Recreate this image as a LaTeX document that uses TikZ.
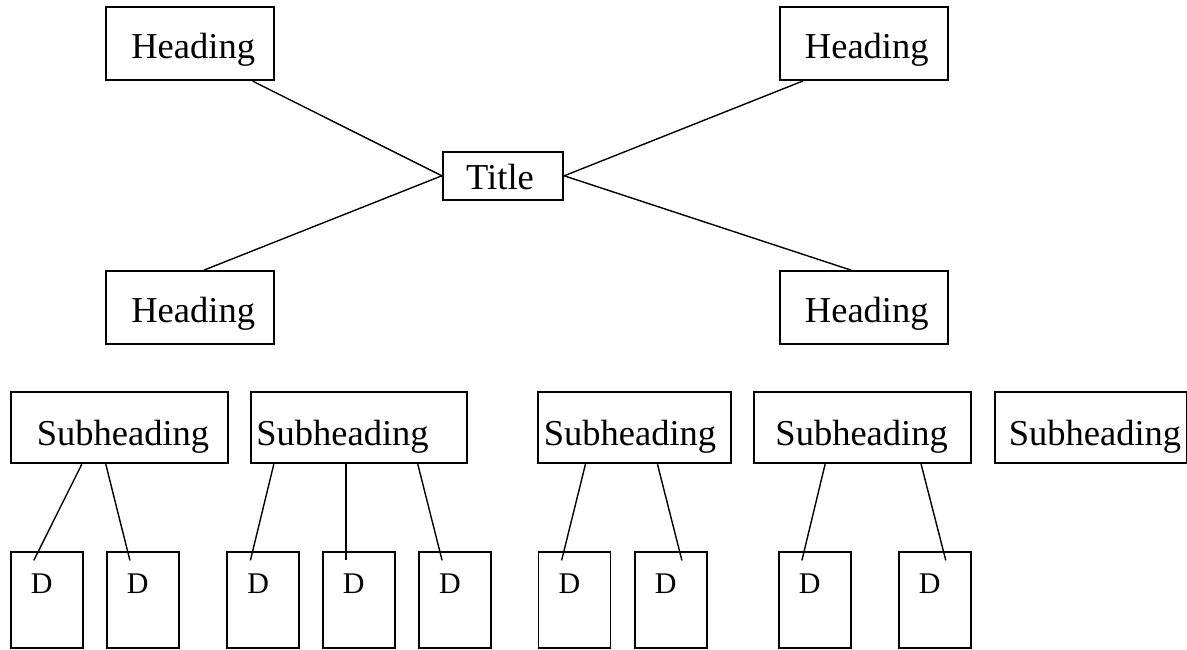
\documentclass[tikz,border=0pt]{standalone}
\usepackage{fontspec}
\setmainfont{Liberation Serif}
\usetikzlibrary{calc}

\begin{document}
\begin{tikzpicture}[x=1pt,y=-1pt,
  box/.style={draw, line width=1.8pt, inner sep=0pt, font=\fontsize{36.5pt}{40pt}\selectfont},
  nudge/.style={execute at begin node={\hspace*{#1}}},
  headbox/.style={box, minimum width=168pt, minimum height=73pt, text height=29.2pt, text depth=0pt, nudge=6pt},
  titlebox/.style={box, minimum width=120.6pt, minimum height=48.3pt, text height=27pt, text depth=0pt, nudge=-6pt},
  subbox/.style={box, minimum height=71pt, text height=34.4pt, text depth=0pt},
  dbox/.style={box, minimum width=72pt, minimum height=96pt, text height=20pt, text depth=34pt, font=\fontsize{30pt}{34pt}\selectfont, nudge=-10pt},
  link/.style={line width=1.4pt}]
\useasboundingbox (0,0) rectangle (1187,649);

% title and headings
\node[titlebox] (title) at (503,175.8) {Title};
\node[headbox] (h1) at (190.2,43.7) {Heading};
\node[headbox] (h2) at (863.8,43.7) {Heading};
\node[headbox] (h3) at (190.2,307.5) {Heading};
\node[headbox] (h4) at (863.8,307.5) {Heading};

% subheadings
\node[subbox, minimum width=217pt, nudge=7.6pt] (s1) at (119.2,427.8) {Subheading};
\node[subbox, minimum width=216.6pt, nudge=-33pt] (s2) at (359,427.8) {Subheading};
\node[subbox, minimum width=192.7pt, nudge=-9.3pt] (s3) at (634.7,427.8) {Subheading};
\node[subbox, minimum width=217pt, nudge=-1.7pt] (s4) at (862.5,427.8) {Subheading};
\node[subbox, minimum width=192pt, nudge=8.6pt] (s5) at (1090.7,427.8) {Subheading};

% details
\node[dbox] (d1) at (46.7,600.3) {D};
\node[dbox] (d2) at (142.8,600.3) {D};
\node[dbox] (d3) at (263.3,600.3) {D};
\node[dbox] (d4) at (358.7,600.3) {D};
\node[dbox] (d5) at (455,600.3) {D};
\node[dbox] (d6) at (574.5,600.3) {D};
\node[dbox] (d7) at (670.8,600.3) {D};
\node[dbox] (d8) at (814.8,600.3) {D};
\node[dbox] (d9) at (934.7,600.3) {D};

% headings to title
\draw[link] ($(h1.south west)+(147.3,0)$) -- (title.west);
\draw[link] ($(h3.north west)+(98.7,0)$) -- (title.west);
\draw[link] ($(h2.south west)+(23.7,0)$) -- (title.east);
\draw[link] ($(h4.north west)+(72,0)$) -- (title.east);

% subheadings to details
\draw[link] ($(s1.south west)+(72,0)$) -- ($(d1.north west)+(24,9)$);
\draw[link] ($(s1.south west)+(96,0)$) -- ($(d2.north west)+(24,9)$);
\draw[link] ($(s2.south west)+(24,0)$) -- ($(d3.north west)+(24,9)$);
\draw[link] ($(s2.south west)+(96,0)$) -- ($(d4.north west)+(24,9)$);
\draw[link] ($(s2.south west)+(168,0)$) -- ($(d5.north west)+(24,9)$);
\draw[link] ($(s3.south west)+(48,0)$) -- ($(d6.north west)+(24,9)$);
\draw[link] ($(s3.south west)+(120,0)$) -- ($(d7.north west)+(48,9)$);
\draw[link] ($(s4.south west)+(72,0)$) -- ($(d8.north west)+(24,9)$);
\draw[link] ($(s4.south west)+(168,0)$) -- ($(d9.north west)+(48,9)$);
\end{tikzpicture}
\end{document}
